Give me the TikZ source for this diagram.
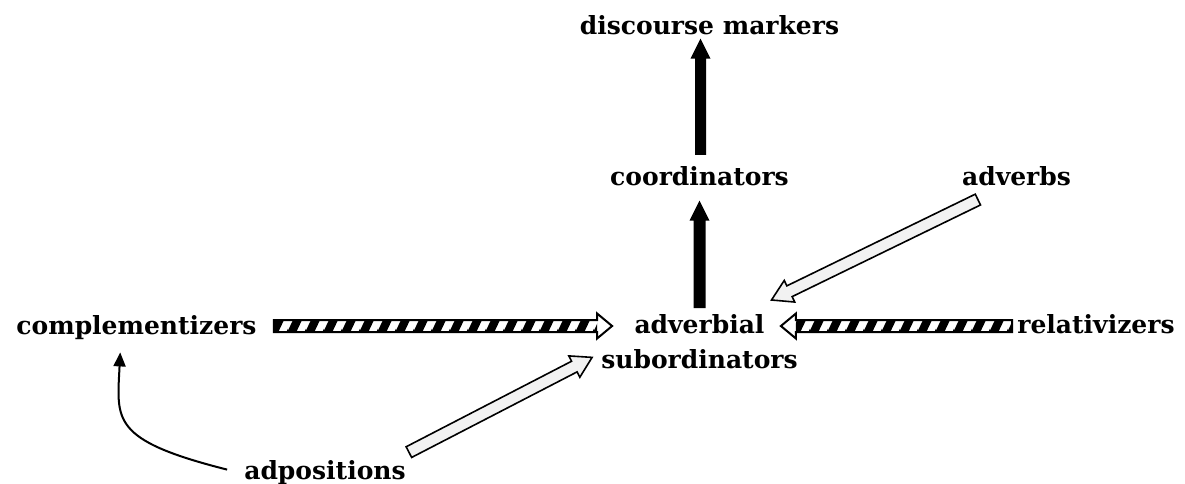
\documentclass[tikz,border=0pt]{standalone}
\usepackage{fontspec}
\setmainfont{DejaVu Serif}
\usetikzlibrary{calc,patterns,arrows.meta}

% steep thick stripes for the hatched arrow shafts (one cell: 18 wide, 36 tall)
\pgfdeclarepatternformonly{widestripes}{\pgfpoint{0pt}{0pt}}{\pgfpoint{18pt}{36pt}}{\pgfpoint{18pt}{36pt}}{%
  \pgfsetlinewidth{8.5pt}%
  \pgfpathmoveto{\pgfpoint{-19pt}{-2pt}}\pgfpathlineto{\pgfpoint{1pt}{38pt}}%
  \pgfpathmoveto{\pgfpoint{-1pt}{-2pt}}\pgfpathlineto{\pgfpoint{19pt}{38pt}}%
  \pgfpathmoveto{\pgfpoint{17pt}{-2pt}}\pgfpathlineto{\pgfpoint{37pt}{38pt}}%
  \pgfusepath{stroke}}

% corner points of a block arrow: tail, tip, half shaft width, half head width, head length
\newcommand\arrowgeom[5]{%
  \coordinate (ba-t) at ($#1$);
  \coordinate (ba-p) at ($#2$);
  \coordinate (ba-h) at ($(ba-p)!#5!(ba-t)$);
  \coordinate (ba-tl) at ($(ba-t)!#3!90:(ba-p)$);
  \coordinate (ba-tr) at ($(ba-t)!#3!-90:(ba-p)$);
  \coordinate (ba-hl) at ($(ba-h)!#3!90:(ba-p)$);
  \coordinate (ba-hr) at ($(ba-h)!#3!-90:(ba-p)$);
  \coordinate (ba-hL) at ($(ba-h)!#4!90:(ba-p)$);
  \coordinate (ba-hR) at ($(ba-h)!#4!-90:(ba-p)$);
}
\newcommand\blockarrow[6]{%
  \arrowgeom{#2}{#3}{#4}{#5}{#6}%
  \path[#1] (ba-tl) -- (ba-hl) -- (ba-hL) -- (ba-p) -- (ba-hR) -- (ba-hr) -- (ba-tr) -- cycle;
}
\newcommand\stripedarrow[2]{%
  \arrowgeom{#1}{#2}{6pt}{12.5pt}{15pt}%
  \path[fill=white] (ba-tl) -- (ba-hl) -- (ba-hL) -- (ba-p) -- (ba-hR) -- (ba-hr) -- (ba-tr) -- cycle;
  \path[pattern=widestripes] (ba-tl) -- (ba-hl) -- (ba-hr) -- (ba-tr) -- cycle;
  \path[outlined, line width=2pt] (ba-tl) -- (ba-hl) -- (ba-hL) -- (ba-p) -- (ba-hR) -- (ba-hr) -- (ba-tr) -- cycle;
}

\definecolor{palegray}{HTML}{F2F2F2}

\tikzset{
  term/.style={inner sep=0pt, anchor=base, font=\fontsize{25}{35}\selectfont\bfseries},
  outlined/.style={draw=black, line width=1.6pt, line join=miter},
  solidarrow/.style={fill=black},
  palearrow/.style={outlined, fill=palegray},
  thinarrow/.style={line width=2pt, -{Triangle[length=14pt,width=12pt]}},
}

\begin{document}
\begin{tikzpicture}[x=1pt, y=-1pt]
\useasboundingbox (0,0) rectangle (1185,484);

\node[term] (disc)  at (709.5,35)  {discourse markers};
\node[term] (coord) at (699.5,185) {coordinators};
\node[term] (advb)  at (1016.5,185) {adverbs};
\node[term] (comp)  at (136.5,334) {complementizers};
\node[term] (rel)   at (1096,333)  {relativizers};
\node[term] (adp)   at (325,479)   {adpositions};
\node[term, anchor=north, align=center] (advsub) at (699.5,314) {adverbial\\subordinators};

% solid black arrows up the chain
\blockarrow{solidarrow}{(advsub.north)+(0,-6)}{(coord.south)+(0,15)}{6pt}{10pt}{20pt}
\blockarrow{solidarrow}{(coord.north)+(1,-11)}{(coord.north |- disc.south)+(1,3)}{5.5pt}{10pt}{20pt}

% pale outlined arrows
\blockarrow{palearrow}{(advb.south west)+(16,14)}{(advsub.north)+(72,-14)}{6pt}{12pt}{20pt}
\blockarrow{palearrow}{(adp.east)+(3,-20)}{(advsub.west)+(-9,16)}{6pt}{12pt}{20pt}

% hatched arrows
\stripedarrow{(comp.east)+(17,-1)}{(advsub.north west)+(11,12)}
\stripedarrow{(rel.west)+(-5,2.5)}{(advsub.north east)+(-17,12)}

% curved line from adpositions to complementizers
\draw[thinarrow] ($(adp.west)+(-17,-2.5)$) .. controls (110,440) and (117,420) .. ($(comp.south west)+(104,13)$);
\end{tikzpicture}
\end{document}
